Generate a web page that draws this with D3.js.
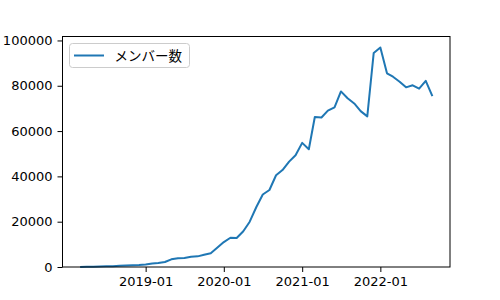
<!DOCTYPE html>
<html>
<head>
<meta charset="utf-8">
<script src="https://cdn.jsdelivr.net/npm/d3@7"></script>
<style>
  body { margin: 0; background: #fff; }
  .tick text { font-family: "DejaVu Sans", sans-serif; font-size: 13px; fill: #000; }
  .line { fill: none; stroke: #1f77b4; stroke-width: 2; stroke-linejoin: round; }
</style>
</head>
<body>
<div id="chart"></div>
<script>
// monthly member counts, 2018-03 .. 2022-09
const startMonth = "2018-03";
const members = [
  50, 100, 150, 200, 300, 350, 500, 700, 800, 900,
  1100, 1500, 1800, 2200, 3400, 3900, 4000, 4500, 4700, 5400,
  6100, 8500, 11000, 12900, 12800, 15800, 20000, 26500, 32000, 34000,
  40500, 42800, 46500, 49300, 54800, 52000, 66200, 66000, 69000, 70500,
  77500, 74500, 72200, 68800, 66500, 94500, 96900, 85500, 84000, 81800,
  79300, 80200, 78700, 82200, 75400
];
const seriesName = "メンバー数";
const xTickLabels = ["2019-01", "2020-01", "2021-01", "2022-01"];
const yTicks = [0, 20000, 40000, 60000, 80000, 100000];

const margin = { top: 36.5, right: 50, bottom: 33, left: 62.5 };
const width = 500 - margin.left - margin.right;
const height = 300 - margin.top - margin.bottom;

const parseMonth = d3.timeParse("%Y-%m");
const t0 = parseMonth(startMonth);
const data = members.map((v, i) => ({ date: d3.timeMonth.offset(t0, i), value: v }));

const svg = d3.select("#chart")
  .append("svg")
  .attr("width", 500)
  .attr("height", 300)
  .append("g")
  .attr("transform", `translate(${margin.left},${margin.top})`);

// matplotlib-style 5% padding on x
const [xMin, xMax] = d3.extent(data, d => d.date);
const pad = (xMax - xMin) * 0.05;
const x = d3.scaleTime()
  .domain([new Date(+xMin - pad), new Date(+xMax + pad)])
  .range([0, width]);

const y = d3.scaleLinear()
  .domain([0, d3.max(data, d => d.value) * 1.05])
  .range([height, 0]);

const line = d3.line()
  .x(d => x(d.date))
  .y(d => y(d.value));

// Axes
const xAxis = svg.append("g")
  .attr("transform", `translate(0,${height})`)
  .call(d3.axisBottom(x)
    .tickValues(xTickLabels.map(parseMonth))
    .tickFormat(d3.timeFormat("%Y-%m"))
    .tickSizeOuter(0).tickSize(5).tickPadding(5));

const yAxis = svg.append("g")
  .call(d3.axisLeft(y)
    .tickValues(yTicks)
    .tickFormat(d3.format("d"))
    .tickSizeOuter(0).tickSize(5).tickPadding(5));

svg.selectAll(".domain").remove();
svg.selectAll(".tick line").attr("stroke", "#000").attr("stroke-width", 1);

// Line
svg.append("path")
  .datum(data)
  .attr("class", "line")
  .attr("d", line);

// Frame
svg.append("rect")
  .attr("width", width)
  .attr("height", height)
  .attr("fill", "none")
  .attr("stroke", "#000")
  .attr("stroke-width", 1);

// Legend
const legend = svg.append("g")
  .attr("transform", "translate(7, 7)");

legend.append("rect")
  .attr("width", 120)
  .attr("height", 24)
  .attr("rx", 3)
  .attr("fill", "#fff")
  .attr("fill-opacity", 0.8)
  .attr("stroke", "#ccc");

legend.append("line")
  .attr("x1", 4.5).attr("x2", 34.5)
  .attr("y1", 12).attr("y2", 12)
  .attr("stroke", "#1f77b4")
  .attr("stroke-width", 2);

legend.append("text")
  .attr("x", 45)
  .attr("y", 17)
  .attr("font-family", "'Noto Sans CJK JP', sans-serif")
  .attr("font-size", "13.5px")
  .text(seriesName);
</script>
</body>
</html>
